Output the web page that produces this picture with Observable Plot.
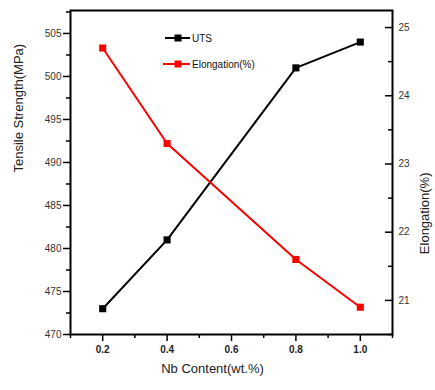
<!DOCTYPE html>
<html>
<head>
<meta charset="utf-8">
<script src="https://cdn.jsdelivr.net/npm/d3@7"></script>
<script src="https://cdn.jsdelivr.net/npm/@observablehq/plot@0.6"></script>
<style>
  html, body { margin: 0; padding: 0; background: #fff; }
  #wrap { position: relative; width: 435px; height: 390px; }
  #legend { position: absolute; left: 0; top: 0; }
</style>
</head>
<body>
<div id="wrap"></div>
<script>
// Data
const nbContent = [0.2, 0.4, 0.8, 1.0];
const utsValues = [473, 481, 501, 504];
const elongationValues = [24.7, 23.3, 21.6, 20.9];

// Tick values
const xMajorTicks = [0.2, 0.4, 0.6, 0.8, 1.0];
const xMinorTicks = [0.1, 0.3, 0.5, 0.7, 0.9, 1.1];
const utsMajorTicks = [470, 475, 480, 485, 490, 495, 500, 505];
const utsMinorTicks = [472.5, 477.5, 482.5, 487.5, 492.5, 497.5, 502.5, 507.5];
const elMajorTicks = [21, 22, 23, 24, 25];
const elMinorTicks = [20.5, 21.5, 22.5, 23.5, 24.5];

const seriesNames = ["UTS", "Elongation(%)"];
const seriesColors = ["#000000", "#ff0000"];

const utsDomain = [470, 507.67];
const elDomain = [20.5, 25.25];
const toLeft = e => utsDomain[0] + (e - elDomain[0]) * (utsDomain[1] - utsDomain[0]) / (elDomain[1] - elDomain[0]);

const utsData = nbContent.map((x, i) => ({x, y: utsValues[i]}));
const elData = nbContent.map((x, i) => ({x, y: toLeft(elongationValues[i])}));

const W = 435, H = 390, mL = 70, mR = 43, mT = 10, mB = 56;
const innerW = W - mL - mR;
const font = "'Liberation Sans', Arial, sans-serif";
const noLabel = () => "";

const chart = Plot.plot({
  width: W, height: H,
  marginLeft: mL, marginRight: mR, marginTop: mT, marginBottom: mB,
  style: {fontFamily: font, fontSize: "10px", color: "#000", background: "#fff"},
  x: {domain: [0.1, 1.1]},
  y: {domain: utsDomain},
  marks: [
    // bottom axis
    Plot.axisX({ticks: xMinorTicks, tickSize: 4, tickFormat: noLabel, label: null, strokeWidth: 1.5}),
    Plot.axisX({ticks: xMajorTicks, tickSize: 7, tickPadding: 4, tickFormat: d3.format(".1f"), label: null, strokeWidth: 1.5, fontWeight: "bold", fill: "#222", fontSize: 10}),
    // left axis
    Plot.axisY({ticks: utsMinorTicks, tickSize: 4, tickFormat: noLabel, label: null, strokeWidth: 1.5}),
    Plot.axisY({ticks: utsMajorTicks, tickSize: 7, tickPadding: 2, tickFormat: d3.format("d"), label: null, strokeWidth: 1.5, fill: "#333", fontSize: 10}),
    // right axis (inward ticks)
    Plot.tickY(elMinorTicks, {y: toLeft, insetLeft: innerW - 4, strokeWidth: 1.5}),
    Plot.tickY(elMajorTicks, {y: toLeft, insetLeft: innerW - 7, strokeWidth: 1.5}),
    Plot.text(elMajorTicks, {y: toLeft, frameAnchor: "right", dx: 6, textAnchor: "start", text: d => String(d), fill: "#333", fontSize: 10}),
    // axis titles
    Plot.text(["Tensile Strength(MPa)"], {frameAnchor: "left", dx: -52, rotate: -90, text: d => d, fontSize: 13, fill: "#222"}),
    Plot.text(["Elongation(%)"], {frameAnchor: "right", dx: 32, rotate: -90, text: d => d, fontSize: 13, fill: "#222"}),
    Plot.text(["Nb Content(wt.%)"], {frameAnchor: "bottom", dy: 38, dx: -19, text: d => d, fontSize: 13, fill: "#222"}),
    // frame
    Plot.frame({stroke: "#000", strokeWidth: 2}),
    // series
    Plot.line(utsData, {x: "x", y: "y", stroke: seriesColors[0], strokeWidth: 2}),
    Plot.dot(utsData, {x: "x", y: "y", symbol: "square", r: 4, fill: seriesColors[0], stroke: "none"}),
    Plot.line(elData, {x: "x", y: "y", stroke: seriesColors[1], strokeWidth: 2}),
    Plot.dot(elData, {x: "x", y: "y", symbol: "square", r: 4, fill: seriesColors[1], stroke: "none"})
  ]
});

const wrap = document.getElementById("wrap");
wrap.appendChild(chart);

// Legend overlay
const ns = "http://www.w3.org/2000/svg";
const leg = document.createElementNS(ns, "svg");
leg.setAttribute("id", "legend");
leg.setAttribute("width", W);
leg.setAttribute("height", 80);
const legendRows = [38, 64];
seriesNames.forEach((name, i) => {
  const y = legendRows[i];
  const x0 = i === 0 ? 165 : 163;
  const line = document.createElementNS(ns, "line");
  line.setAttribute("x1", x0); line.setAttribute("x2", 190);
  line.setAttribute("y1", y); line.setAttribute("y2", y);
  line.setAttribute("stroke", seriesColors[i]); line.setAttribute("stroke-width", 2);
  leg.appendChild(line);
  const sq = document.createElementNS(ns, "rect");
  sq.setAttribute("x", 174.5); sq.setAttribute("y", y - 3.5);
  sq.setAttribute("width", 7); sq.setAttribute("height", 7);
  sq.setAttribute("fill", seriesColors[i]);
  leg.appendChild(sq);
  const t = document.createElementNS(ns, "text");
  t.setAttribute("x", 192); t.setAttribute("y", y);
  t.setAttribute("dy", "0.35em");
  t.setAttribute("font-family", font);
  t.setAttribute("font-size", 10);
  t.setAttribute("fill", "#111");
  t.textContent = name;
  leg.appendChild(t);
});
wrap.appendChild(leg);
</script>
</body>
</html>
